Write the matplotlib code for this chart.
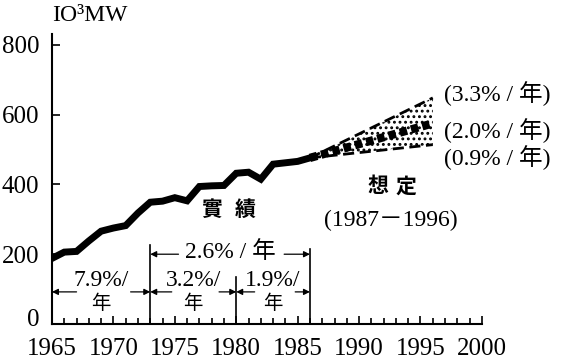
import matplotlib
matplotlib.use("Agg")
import matplotlib.pyplot as plt
from matplotlib.transforms import ScaledTranslation

plt.rcParams['font.family'] = ['Liberation Serif', 'Noto Sans CJK JP']
plt.rcParams['hatch.linewidth'] = 1.3

years = [1965, 1966, 1967, 1968, 1969, 1970, 1971, 1972, 1973, 1974, 1975,
         1976, 1977, 1978, 1979, 1980, 1981, 1982, 1983, 1984, 1985, 1986]
actual = [188, 206, 208, 238, 266, 275, 282, 318, 349, 352, 362,
          353, 394, 396, 397, 432, 435, 415, 458, 462, 466, 476]

# projection 1987-1996: start and end points
proj_years = [1986, 1996]
proj_high = [476, 648]
proj_mid = [476, 575]
proj_low = [476, 514]

# growth-rate periods
periods = [(1965, 1973, '7.9%/'), (1973, 1980, '3.2%/'), (1980, 1986, '1.9%/')]
overall = (1973, 1986, '2.6% / 年')
proj_labels = ['(3.3% / 年)', '(2.0% / 年)', '(0.9% / 年)']

fig = plt.figure(figsize=(5.62, 3.62), dpi=100)
ax = fig.add_axes([0.0925, 0.105, 0.765, 0.80])

ax.plot(years, actual, color='black', lw=5, solid_joinstyle='miter', zorder=3)

ax.fill_between(proj_years, proj_low, proj_high, facecolor='none',
                edgecolor='black', hatch='...', linewidth=0)
ax.plot(proj_years, proj_high, color='black', lw=2, dashes=(4, 2))
ax.plot(proj_years, proj_low, color='black', lw=2, dashes=(4, 2))
ax.plot(proj_years, proj_mid, color='black', lw=6, dashes=(0.9, 0.5))

fs = 17
arrow_kw = dict(arrowstyle='-|>', color='black', lw=0.9, mutation_scale=9,
                shrinkA=0, shrinkB=0)
y_arr = 92
for a, b, label in periods:
    mid = (a + b) / 2
    ax.annotate('', xy=(a, y_arr), xytext=(a + (b - a) * 0.25, y_arr), arrowprops=arrow_kw)
    ax.annotate('', xy=(b, y_arr), xytext=(b - (b - a) * 0.2, y_arr), arrowprops=arrow_kw)
    ax.text(mid, y_arr + 3, label, ha='center', va='bottom', fontsize=fs)
    ax.text(mid, y_arr - 8, '年', ha='center', va='top', fontsize=14)

ax.plot([1973, 1973], [0, 225], color='black', lw=1.2)
ax.plot([1980, 1980], [0, 135], color='black', lw=1.2)
ax.plot([1986, 1986], [0, 216], color='black', lw=1.2)

a, b, label = overall
ax.annotate('', xy=(a, 200), xytext=(1975.3, 200), arrowprops=arrow_kw)
ax.annotate('', xy=(b, 200), xytext=(1983.9, 200), arrowprops=arrow_kw)
ax.text((a + b) / 2, 206, label, ha='center', va='center', fontsize=fs)

ax.text(1978.0, 323, '實', ha='center', va='center', fontsize=15, fontweight='bold')
ax.text(1980.7, 323, '績', ha='center', va='center', fontsize=15, fontweight='bold')
ax.text(1991.5, 392, '想', ha='center', va='center', fontsize=15, fontweight='bold')
ax.text(1993.8, 392, '定', ha='center', va='center', fontsize=15, fontweight='bold')
ax.text(1992.6, 296, '(1987－1996)', ha='center', va='center', fontsize=fs)

for val, txt in zip([660, 553, 478], proj_labels):
    ax.text(1996.9, val, txt, ha='left', va='center', fontsize=fs)

ax.text(0.0, 1.065, 'IO³MW', transform=ax.transAxes, ha='left', va='center', fontsize=fs)

ax.set_xlim(1965, 2000)
ax.set_ylim(0, 830)
ax.set_xticks(range(1965, 2001, 5))
ax.set_xticks(range(1965, 2001), minor=True)
ax.set_yticks(range(0, 801, 200))
ax.spines['top'].set_visible(False)
ax.spines['right'].set_visible(False)
ax.spines['left'].set_linewidth(1.5)
ax.spines['bottom'].set_linewidth(1.5)
ax.tick_params(which='both', direction='in', labelsize=18, width=1.2)
ax.tick_params(which='major', length=6)
ax.tick_params(which='minor', length=4)
ax.tick_params(axis='x', pad=10)
ax.tick_params(axis='y', pad=9)

# the "0" sits a little above the x axis in the original
zero = ax.get_yticklabels()[0]
zero.set_transform(zero.get_transform() + ScaledTranslation(0, 5 / 72, fig.dpi_scale_trans))

fig.savefig('out.png', dpi=100)
